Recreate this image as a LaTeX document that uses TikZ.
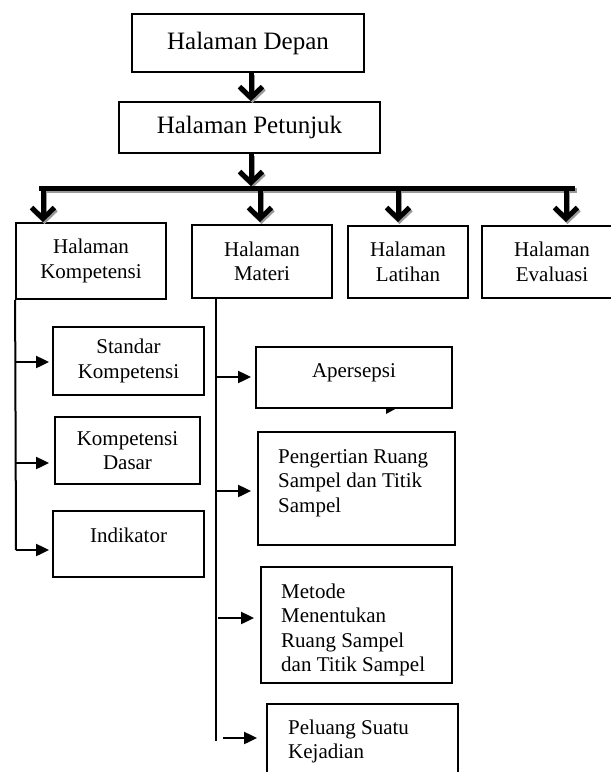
\documentclass[tikz,border=0pt]{standalone}
\usepackage{fontspec}
\setmainfont{Liberation Serif}
\usetikzlibrary{arrows.meta}
\newcommand\HalBigConn{%
  \draw[barr] (dep.south -| ax) -- (pet.north -| ax);
  \draw[barr] (pet.south -| ax) -- (barTop);
  \draw[line width=5pt] (barL) -- (barR);
  \draw[barr] (d1) -- (e1);
  \draw[barr] (d2) -- (e2);
  \draw[barr] (d3) -- (e3);
  \draw[barr] (d4) -- (e4);
}
\begin{document}
\begin{tikzpicture}[x=1pt,y=-1pt,
  boxone/.style={draw, line width=1.8pt, inner sep=0pt, font=\fontsize{21}{24.5}\selectfont},
  box/.style={boxone, align=center},
  bigbox/.style={box, font=\fontsize{25}{29}\selectfont},
  txt/.style={inner sep=0pt, align=left, font=\fontsize{21}{24.5}\selectfont},
  barr/.style={line width=5pt, -{Straight Barb[length=11pt,width=23pt]}},
  shade/.style={color=black!40, transform canvas={xshift=1.5pt,yshift=-2pt}},
  sarr/.style={line width=2pt, -{Triangle[length=13pt,width=12pt]}},
  vline/.style={line width=2pt}]
\clip (0,0) rectangle (611,772);
% boxes
\node[bigbox, minimum width=232pt, minimum height=58pt] (dep) at (248,43) {Halaman Depan};
\node[bigbox, minimum width=261pt, minimum height=51pt] (pet) at (249.5,127.5) {Halaman Petunjuk};
\node[box, minimum width=150pt, minimum height=76pt] (komp) at (91,261) {Halaman\\Kompetensi};
\node[box, minimum width=140pt, minimum height=73pt] (mat) at (262,261.5) {Halaman\\Materi};
\node[box, minimum width=120pt, minimum height=72pt] (lat) at (408,262) {Halaman\\Latihan};
\node[box, minimum width=140pt, minimum height=72pt] (eva) at (552,262) {Halaman\\Evaluasi};
\node[box, minimum width=151pt, minimum height=68pt] (std) at (128.5,361) {Standar\\Kompetensi};
\node[box, minimum width=145pt, minimum height=67pt] (kd) at (127.5,450.5) {Kompetensi\\Dasar};
\node[boxone, minimum width=151pt, minimum height=66pt, text height=31pt, text depth=35pt] (ind) at (128.5,544) {Indikator};
\node[boxone, minimum width=196pt, minimum height=61pt, text height=30pt, text depth=31pt] (ape) at (354,377.5) {Apersepsi};
\node[box, minimum width=197pt, minimum height=113pt] (peng) at (356.5,488.5) {};
\node[txt, anchor=base west] (pengt) at (278,512) {Pengertian Ruang\\Sampel dan Titik\\Sampel};
\node[box, minimum width=191pt, minimum height=116pt] (met) at (356.5,625) {};
\node[txt, anchor=base west] (mett) at (281,671.5) {Metode\\Menentukan\\Ruang Sampel\\dan Titik Sampel};
\node[box, minimum width=191pt, minimum height=74pt] (pel) at (362.5,741) {};
\node[txt, anchor=base west] (pelt) at (288,758.5) {Peluang Suatu\\Kejadian};
% coordinates of the big connectors
\coordinate (ax) at (251,0);
\coordinate (barTop) at (251,186);
\coordinate (barL) at (39,188);
\coordinate (barR) at (575,188);
\coordinate (d1) at (43,188);  \coordinate (e1) at (43,222);
\coordinate (d2) at (260,188); \coordinate (e2) at (260,222);
\coordinate (d3) at (398,188); \coordinate (e3) at (398,222);
\coordinate (d4) at (566,188); \coordinate (e4) at (566,222);
\begin{scope}[shade]
  \HalBigConn
\end{scope}
\HalBigConn
% left branch
\coordinate (kl1) at (16,550);
\coordinate (ks) at (16,362);
\coordinate (kk) at (16,463);
\draw[vline] (komp.south west) -- (kl1);
\draw[sarr, shorten >=3pt] (ks) -- (ks -| std.west);
\draw[sarr, shorten >=5pt] (kk) -- (kk -| kd.west);
\draw[sarr, shorten >=3pt] (kl1) -- (kl1 -| ind.west);
% materi branch
\coordinate (m0) at (216,298);
\coordinate (m1) at (216,741);
\coordinate (ma) at (216,377);
\coordinate (mp) at (216,491);
\coordinate (mm) at (218,618);
\coordinate (ml) at (223,738);
\draw[vline] (m0) -- (m1);
\draw[sarr, shorten >=4pt] (ma) -- (ma -| ape.west);
\draw[sarr, shorten >=6pt] (mp) -- (mp -| peng.west);
\draw[sarr, shorten >=6pt] (mm) -- (mm -| met.west);
\draw[sarr, shorten >=9pt] (ml) -- (ml -| pel.west);
% small stray wedge below Apersepsi
\fill (386,408) -- (397,408) -- (386,414) -- cycle;
\end{tikzpicture}
\end{document}
